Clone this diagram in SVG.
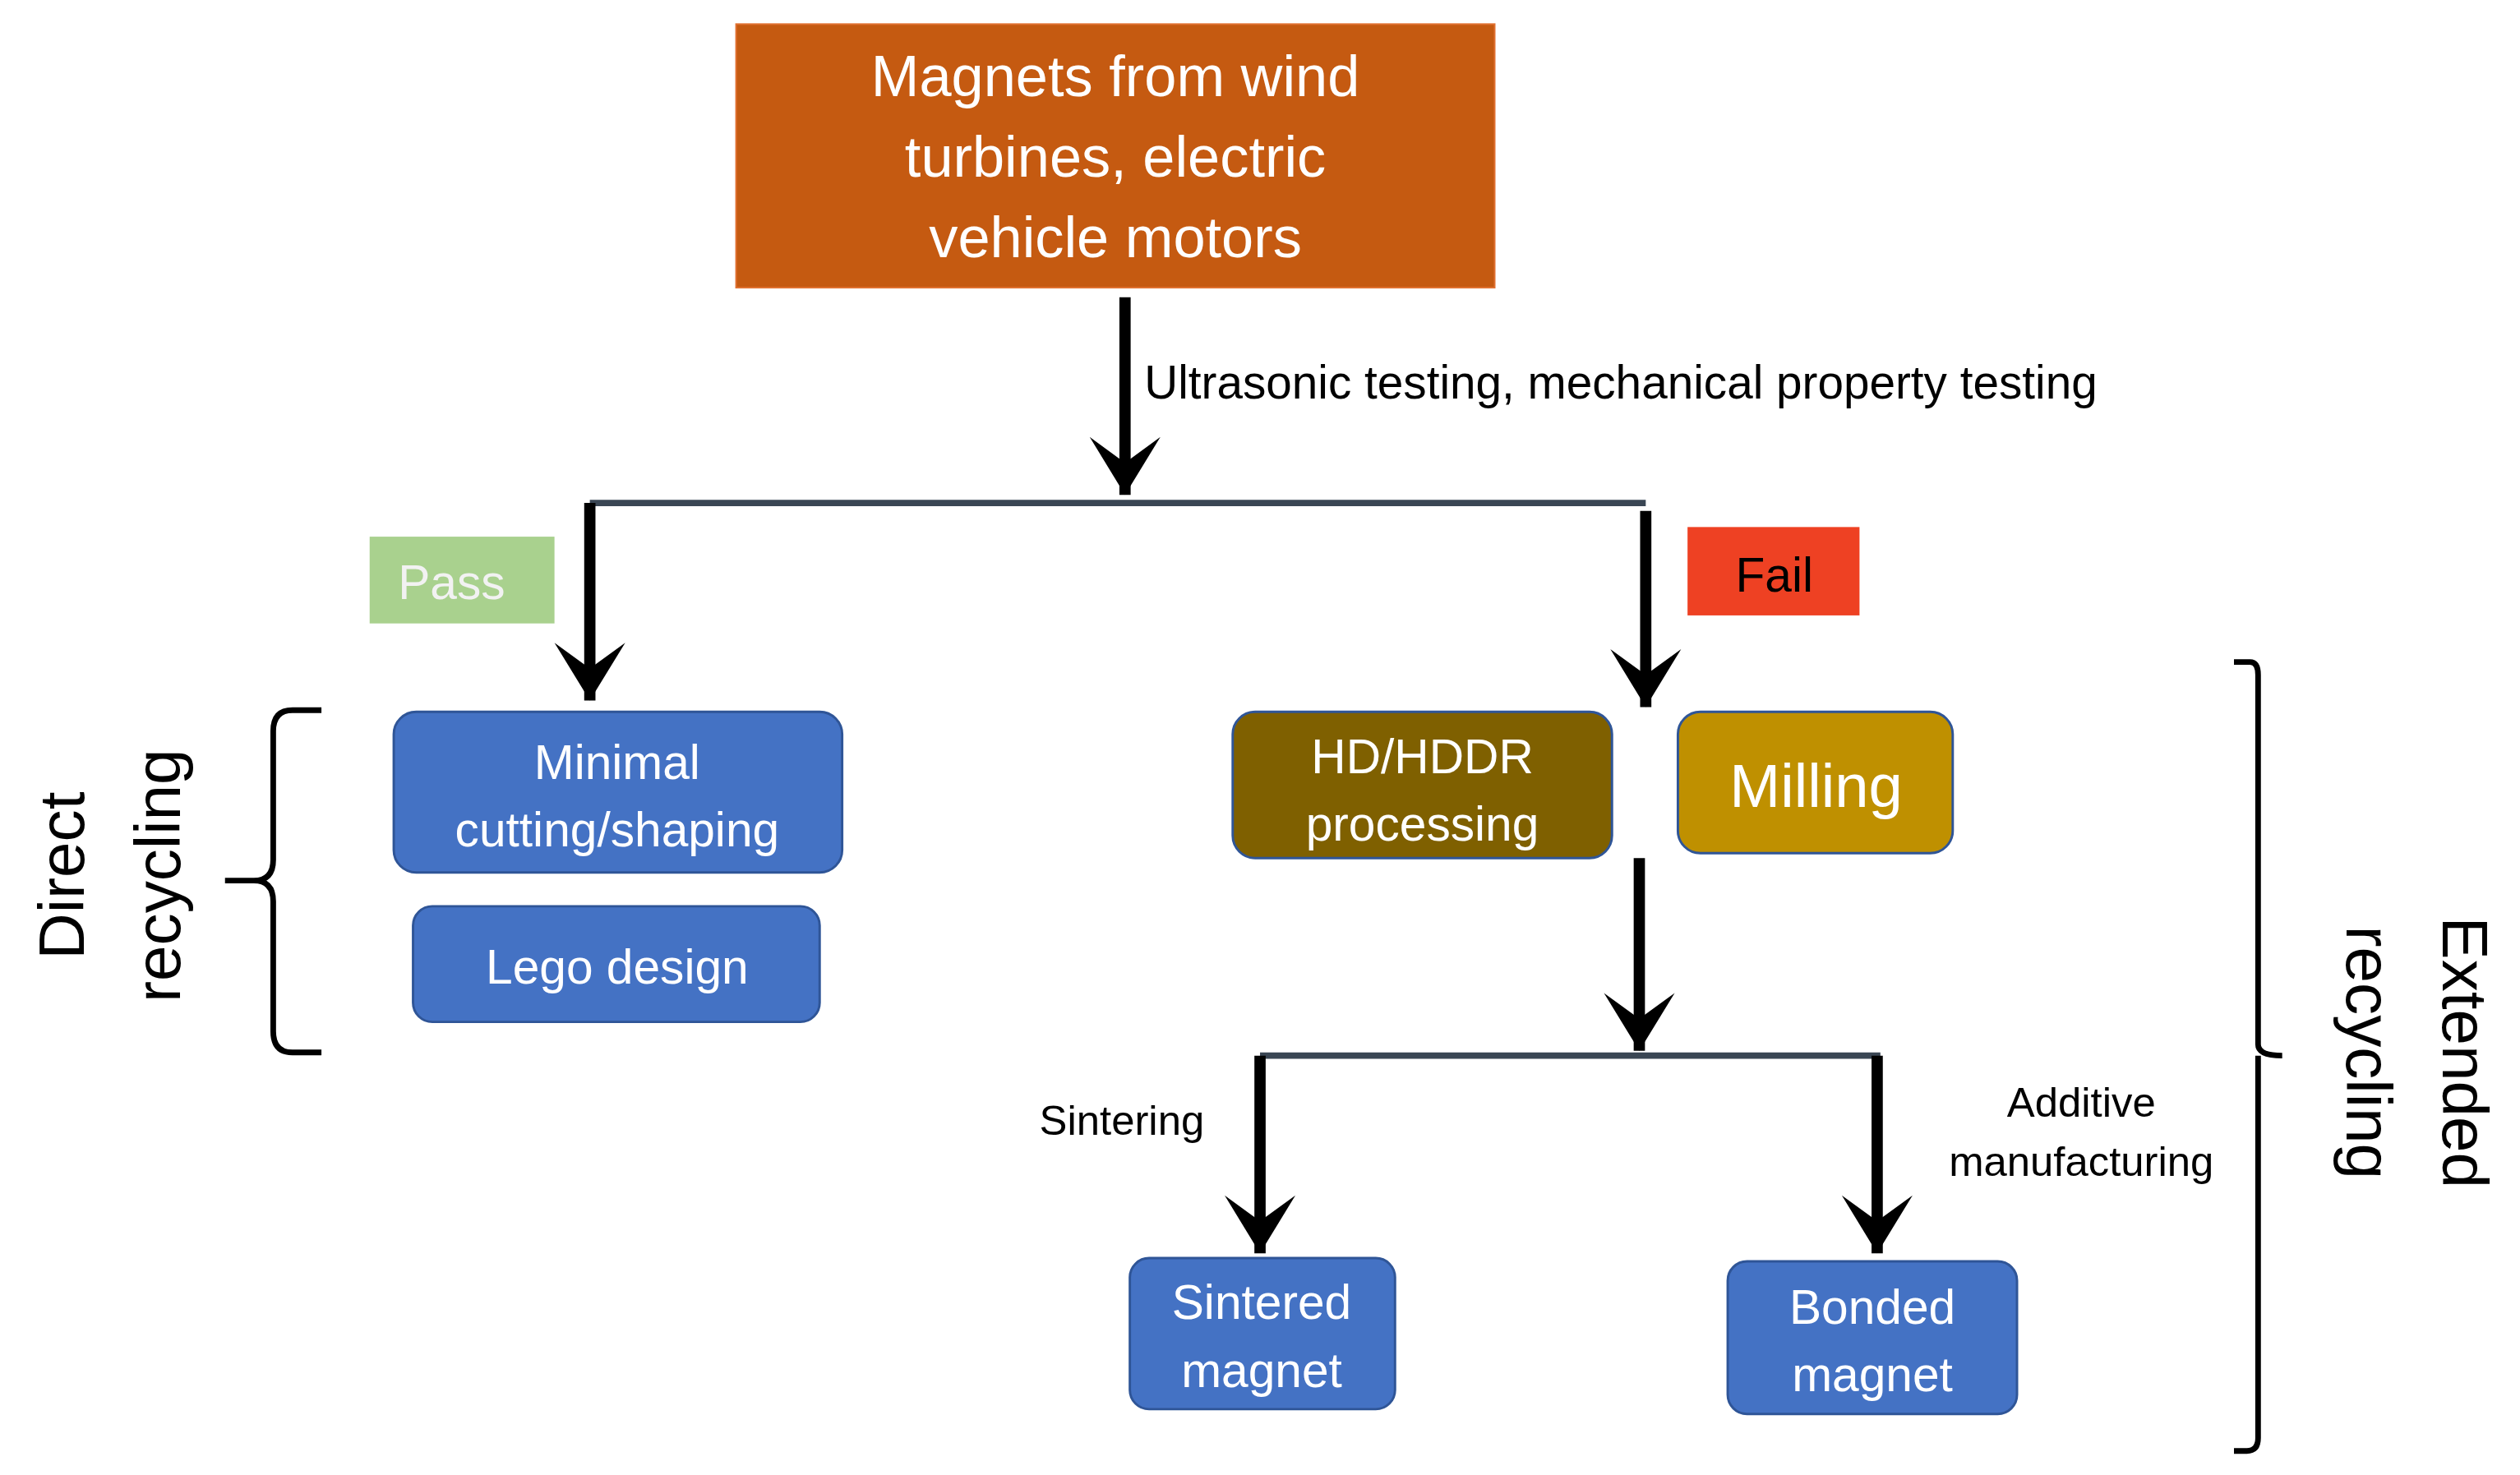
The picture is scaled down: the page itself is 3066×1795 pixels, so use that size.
<svg xmlns="http://www.w3.org/2000/svg" width="3066" height="1795" viewBox="0 0 3066 1795">
<style>
text{font-family:"Liberation Sans",Arial,sans-serif;text-anchor:middle}
.w{fill:#fff;font-size:32px}
.b{fill:#000;font-size:28px}
.box{stroke:#2F5597;stroke-width:1.5}
.ln{stroke:#000;stroke-width:7;fill:none}
.hl{stroke:#3a4654;stroke-width:4;fill:none}
.br{stroke:#000;stroke-width:3.5;fill:none}
</style>
<defs>
<marker id="ah" markerUnits="userSpaceOnUse" markerWidth="60" markerHeight="60" refX="0" refY="0" viewBox="-30 -50 60 60" orient="auto-start-reverse" overflow="visible">
<path d="M0 0 L-22 -36 L0 -20 L22 -36 Z" fill="#000" transform="rotate(-90)"/>
</marker>
</defs>
<rect width="3066" height="1795" fill="#fff"/>
<g transform="scale(1.9554)">
<g id="top"><rect x="458" y="15" width="472" height="164" fill="#C55A11" stroke="#e07030" stroke-width="1"/>
<text class="w" x="694" y="60" style="font-size:36px">Magnets from wind</text>
<text class="w" x="694" y="110" style="font-size:36px">turbines, electric</text>
<text class="w" x="694" y="160" style="font-size:36px">vehicle motors</text></g>
<g id="connectors">
<line class="ln" x1="700" y1="185" x2="700" y2="308" marker-end="url(#ah)"/>
<line class="hl" x1="367" y1="313" x2="1024" y2="313"/>
<line class="ln" x1="367" y1="313" x2="367" y2="436" marker-end="url(#ah)"/>
<line class="ln" x1="1024" y1="318" x2="1024" y2="440" marker-end="url(#ah)"/>
<line class="ln" x1="1020" y1="534" x2="1020" y2="654" marker-end="url(#ah)"/>
<line class="hl" x1="784" y1="657" x2="1170" y2="657"/>
<line class="ln" x1="784" y1="657" x2="784" y2="780" marker-end="url(#ah)"/>
<line class="ln" x1="1168" y1="657" x2="1168" y2="780" marker-end="url(#ah)"/>
</g>
<text class="b" x="712" y="248" style="text-anchor:start;font-size:29px">Ultrasonic testing, mechanical property testing</text>
<g id="pass"><rect x="230" y="334" width="115" height="54" fill="#A9D18E"/><text x="281" y="373" style="fill:#f2f2f2;font-size:30px">Pass</text></g>
<g id="fail"><rect x="1050" y="328" width="107" height="55" fill="#EE4123"/><text x="1104" y="368" style="fill:#000;font-size:30px">Fail</text></g>
<g id="minimal"><rect class="box" x="245" y="443" width="279" height="100" rx="14" fill="#4472C4"/>
<text class="w" x="384" y="485" style="font-size:30px">Minimal</text><text class="w" x="384" y="527" style="font-size:30px">cutting/shaping</text></g>
<g id="lego"><rect class="box" x="257" y="564" width="253" height="72" rx="12" fill="#4472C4"/>
<text class="w" x="384" y="612" style="font-size:30px">Lego design</text></g>
<g id="hddr"><rect class="box" x="767" y="443" width="236" height="91" rx="14" fill="#7F6000"/>
<text class="w" x="885" y="481" style="font-size:30px">HD/HDDR</text><text class="w" x="885" y="523" style="font-size:30px">processing</text></g>
<g id="milling"><rect class="box" x="1044" y="443" width="171" height="88" rx="14" fill="#BF9000"/>
<text class="w" x="1130" y="502" style="font-size:38px">Milling</text></g>
<text class="b" x="698" y="706" style="font-size:26px">Sintering</text>
<text class="b" x="1295" y="695" style="font-size:26px">Additive</text>
<text class="b" x="1295" y="732" style="font-size:26px">manufacturing</text>
<g id="sintered"><rect class="box" x="703" y="783" width="165" height="94" rx="12" fill="#4472C4"/>
<text class="w" x="785" y="821" style="font-size:30px">Sintered</text><text class="w" x="785" y="863" style="font-size:30px">magnet</text></g>
<g id="bonded"><rect class="box" x="1075" y="785" width="180" height="95" rx="12" fill="#4472C4"/>
<text class="w" x="1165" y="824" style="font-size:30px">Bonded</text><text class="w" x="1165" y="866" style="font-size:30px">magnet</text></g>
<g id="direct">
<path class="br" d="M200 442 H182 Q170 442 170 455 V535 Q170 548 158 548 H140 M158 548 Q170 548 170 561 V642 Q170 655 182 655 H200"/>
<text transform="translate(52 545) rotate(-90)" style="font-size:40px;fill:#000">Direct</text>
<text transform="translate(112 545) rotate(-90)" style="font-size:40px;fill:#000">recycling</text>
</g>
<g id="extended">
<path class="br" d="M1390 412 H1400 Q1405 412 1405 420 V650 Q1405 657 1420 657 M1405 657 Q1405 664 1405 670 V895 Q1405 903 1398 903 H1390"/>
<text transform="translate(1520 655) rotate(90)" style="font-size:40px;fill:#000">Extended</text>
<text transform="translate(1460 655) rotate(90)" style="font-size:40px;fill:#000">recycling</text>
</g>
</g>
</svg>
